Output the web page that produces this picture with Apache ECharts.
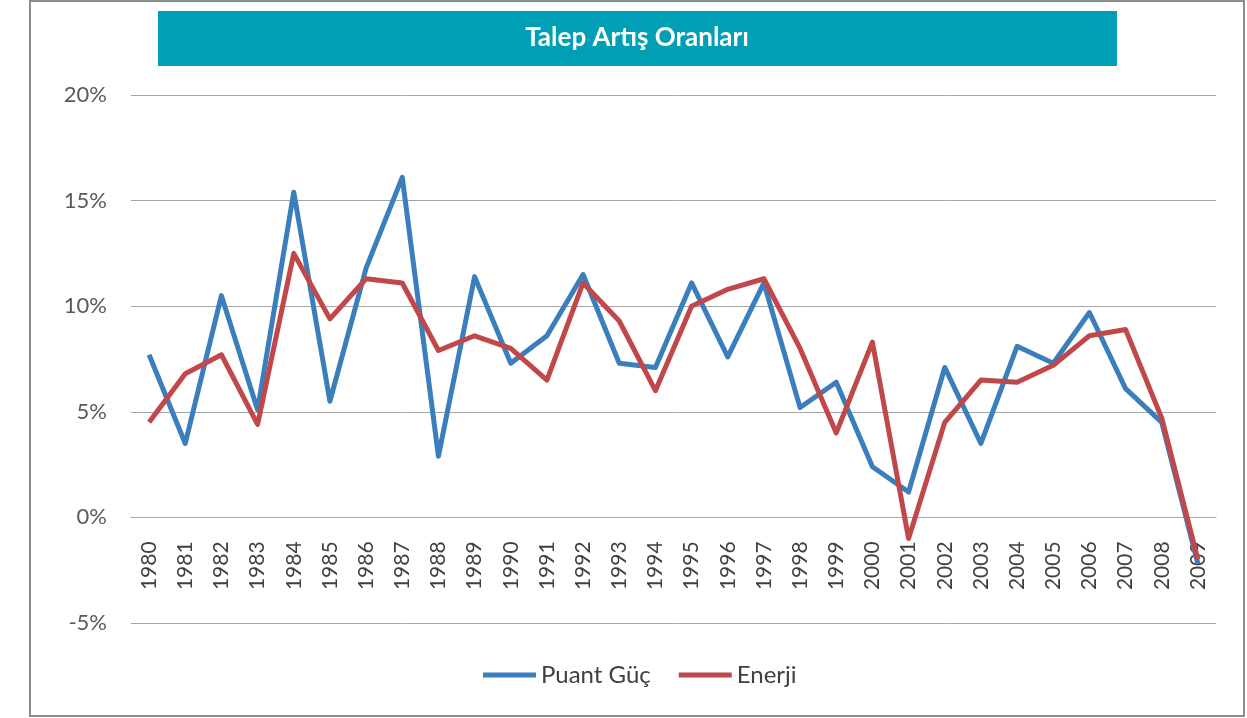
<!DOCTYPE html>
<html>
<head>
<meta charset="utf-8">
<script src="https://cdn.jsdelivr.net/npm/echarts@6/dist/echarts.min.js"></script>
<style>
  html, body { margin: 0; padding: 0; background: #fff; }
  #talep { width: 1247px; height: 718px; }
</style>
</head>
<body>
<div id="talep"></div>
<script>
var years = ['1980','1981','1982','1983','1984','1985','1986','1987','1988','1989',
             '1990','1991','1992','1993','1994','1995','1996','1997','1998','1999',
             '2000','2001','2002','2003','2004','2005','2006','2007','2008','2009'];
var puantGuc = [7.7, 3.5, 10.5, 5.1, 15.4, 5.5, 11.8, 16.1, 2.9, 11.4,
                7.3, 8.6, 11.5, 7.3, 7.1, 11.1, 7.6, 11.1, 5.2, 6.4,
                2.4, 1.2, 7.1, 3.5, 8.1, 7.3, 9.7, 6.1, 4.5, -2.2];
var enerji = [4.5, 6.8, 7.7, 4.4, 12.5, 9.4, 11.3, 11.1, 7.9, 8.6,
              8.0, 6.5, 11.1, 9.3, 6.0, 10.0, 10.8, 11.3, 8.0, 4.0,
              8.3, -1.0, 4.5, 6.5, 6.4, 7.2, 8.6, 8.9, 4.7, -2.0];
var yTicks = [-5, 0, 5, 10, 15, 20];

var mychart = echarts.init(document.getElementById('talep'));

// grid height 528px spans 25 points, so zero sits 5 points above the bottom
var gridH = 528;
var zeroOffset = -gridH * (0 - yTicks[0]) / (yTicks[yTicks.length - 1] - yTicks[0]);

option = {
    backgroundColor: '#ffffff',
    color: ['#3b7ebc', '#c0474a'],
    textStyle: { fontFamily: 'Lato' },
    graphic: [
        {
            type: 'rect',
            shape: { x: 30, y: 1, width: 1214, height: 715 },
            style: { fill: 'none', stroke: '#8c8c8c', lineWidth: 2 },
            silent: true
        },
        {
            type: 'rect',
            shape: { x: 158, y: 11, width: 959, height: 55 },
            style: { fill: '#009fb5' },
            silent: true
        },
        {
            type: 'text',
            x: 637,
            y: 38,
            style: {
                text: 'Talep Artış Oranları',
                fill: '#ffffff',
                font: 'bold 26px Lato',
                align: 'center',
                verticalAlign: 'middle'
            },
            silent: true
        }
    ],
    grid: {
        left: 131,
        right: 31,
        top: 95,
        height: gridH
    },
    legend: {
        data: ['Puant Güç', 'Enerji'],
        left: 478,
        bottom: 26,
        icon: 'rect',
        itemWidth: 53,
        itemHeight: 5,
        itemGap: 28,
        textStyle: { fontSize: 24, color: '#404040', fontFamily: 'Lato' }
    },
    xAxis: {
        type: 'category',
        data: years,
        boundaryGap: true,
        offset: zeroOffset,
        axisLine: { show: true, onZero: false, lineStyle: { color: '#a6a6a6', width: 1 } },
        axisTick: { show: false },
        axisLabel: {
            rotate: 90,
            margin: 24,
            fontSize: 21,
            color: '#404040',
            fontFamily: 'Lato',
            interval: 0
        }
    },
    yAxis: {
        type: 'value',
        min: yTicks[0],
        max: yTicks[yTicks.length - 1],
        interval: 5,
        axisLine: { show: false },
        axisTick: { show: false },
        axisLabel: {
            formatter: '{value}%',
            margin: 24,
            fontSize: 22,
            color: '#595959',
            fontFamily: 'Lato'
        },
        splitLine: { lineStyle: { color: '#a6a6a6', width: 1 } }
    },
    series: [
        {
            name: 'Puant Güç',
            type: 'line',
            data: puantGuc,
            symbol: 'none',
            lineStyle: { width: 5, join: 'round' }
        },
        {
            name: 'Enerji',
            type: 'line',
            data: enerji,
            symbol: 'none',
            lineStyle: { width: 5, join: 'round' }
        }
    ]
};
mychart.setOption(option, true);
</script>
</body>
</html>
